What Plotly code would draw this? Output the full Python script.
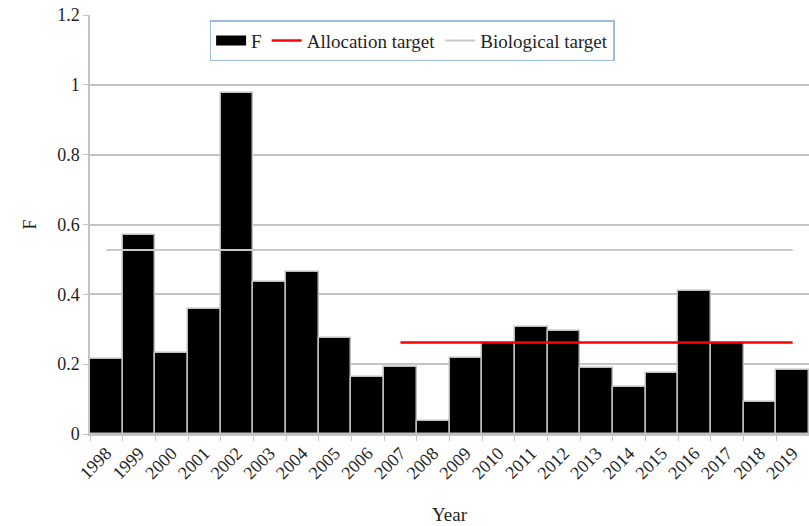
import plotly.graph_objects as go

years = [str(y) for y in range(1998, 2020)]
f_values = [0.216, 0.569, 0.233, 0.357, 0.977, 0.436, 0.464, 0.274, 0.164, 0.193,
            0.038, 0.219, 0.262, 0.307, 0.295, 0.190, 0.135, 0.176, 0.409, 0.262,
            0.093, 0.183]
alloc_years = [str(y) for y in range(2007, 2020)]
alloc_target = 0.262
bio_years = years
bio_target = 0.527
y_ticks = [0, 0.2, 0.4, 0.6, 0.8, 1.0, 1.2]
y_tick_labels = ["0", "0.2", "0.4", "0.6", "0.8", "1", "1.2"]

font_family = "Liberation Serif, Times New Roman, serif"
grid_col = "#c4c4c4"
txt_col = "#1f1f1f"

fig = go.Figure()
fig.add_trace(go.Bar(
    x=years, y=f_values, name="F", showlegend=False,
    marker=dict(color="black", line=dict(color="#bdbdbd", width=1.5)),
))
# legend key for the bars (wide black rectangle, as in the original)
fig.add_trace(go.Scatter(
    x=[None], y=[None], mode="lines", name="F",
    line=dict(color="black", width=11),
))
fig.add_trace(go.Scatter(
    x=alloc_years, y=[alloc_target] * len(alloc_years), mode="lines",
    name="Allocation target", line=dict(color="#ff0000", width=2.5),
))
fig.add_trace(go.Scatter(
    x=bio_years, y=[bio_target] * len(bio_years), mode="lines",
    name="Biological target", line=dict(color="#c8c8c8", width=2),
))

fig.update_layout(
    width=809, height=526,
    margin=dict(l=90, r=0, t=15, b=92),
    plot_bgcolor="white", paper_bgcolor="white",
    font=dict(family=font_family, size=19, color=txt_col),
    bargap=0,
    showlegend=True,
    legend=dict(
        orientation="h", x=0.448, xanchor="center", y=0.988, yanchor="top",
        bordercolor="#9fbbe0", borderwidth=1.5, bgcolor="white",
        font=dict(family=font_family, size=19, color=txt_col),
        traceorder="normal", itemwidth=30,
    ),
    xaxis=dict(
        type="category", tickangle=-45, tickson="boundaries",
        ticks="outside", ticklen=5, tickcolor=grid_col,
        showline=True, linecolor=grid_col, linewidth=1.5,
        showgrid=False, automargin=False,
        title=dict(text="Year", font=dict(size=19), standoff=26),
        tickfont=dict(size=18),
    ),
    yaxis=dict(
        range=[0, 1.2], tickmode="array", tickvals=y_ticks, ticktext=y_tick_labels,
        ticks="outside", ticklen=5, tickcolor=grid_col,
        showline=True, linecolor=grid_col, linewidth=1.5,
        showgrid=True, gridcolor=grid_col, gridwidth=1.5,
        zeroline=False, automargin=False,
        title=dict(text="F", font=dict(size=18), standoff=16),
        tickfont=dict(size=18),
    ),
)

fig.write_html(
    "out.html",
    config={"displayModeBar": False},
    post_script="document.body.style.margin='0';document.body.style.overflow='hidden';",
)
